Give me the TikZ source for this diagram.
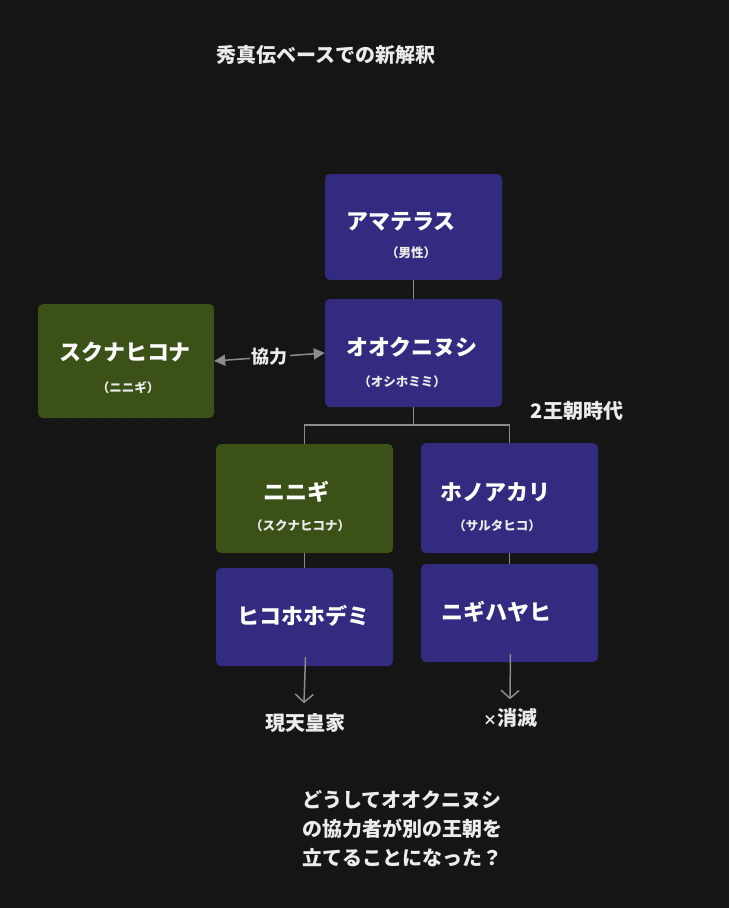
\documentclass[tikz,border=0pt]{standalone}
\usepackage{fontspec}
\setmainfont{Noto Sans CJK JP}
\usetikzlibrary{arrows.meta}
\definecolor{bg}{RGB}{21,21,21}
\definecolor{griddot}{RGB}{40,40,40}
\definecolor{bluefill}{RGB}{50,43,128}
\definecolor{greenfill}{RGB}{59,81,23}
\definecolor{linkgray}{RGB}{140,140,140}
\definecolor{textwhite}{RGB}{236,236,236}

\begin{document}
\begin{tikzpicture}[x=1pt,y=-1pt,
    family/.style={rounded corners=5pt, inner sep=0pt, minimum width=177pt},
    kamiblue/.style={family, fill=bluefill},
    kamigreen/.style={family, fill=greenfill},
    godname/.style={text=white, font=\fontsize{22}{26}\selectfont\bfseries, inner sep=0pt},
    othername/.style={text=textwhite, font=\fontsize{12.5}{15}\selectfont\bfseries, inner sep=0pt},
    note/.style={text=textwhite, font=\fontsize{20}{29}\selectfont\bfseries, inner sep=0pt},
    link/.style={draw=linkgray, line width=1.5pt},
    fate/.style={link, -{Straight Barb[length=8pt,width=18pt,line width=1.5pt]}}]
    \fill[bg] (0,0) rectangle (729,908);
    \useasboundingbox (0,0) rectangle (729,908);
    \foreach \i in {0,...,44}
        \foreach \j in {0,...,55}
            \fill[griddot] (1+16.3*\i, 13.3+16.3*\j) circle (0.7);

    \node[note] (title) at (326,55) {秀真伝ベースでの新解釈};

    \node[kamiblue, minimum height=106pt] (ama) at (413.5,227) {};
    \node[godname] (amaname) at (401,222) {アマテラス};
    \node[othername] (amaalias) at (411,253) {（男性）};

    \node[kamiblue, minimum height=108pt] (oku) at (413.5,353) {};
    \node[godname] (okuname) at (412,347) {オオクニヌシ};
    \node[othername] (okualias) at (402,382) {（オシホミミ）};

    \node[kamigreen, minimum width=176pt, minimum height=114pt] (sukuna) at (126,361) {};
    \node[godname] (sukunaname) at (125,352) {スクナヒコナ};
    \node[othername] (sukunaalias) at (128,388) {（ニニギ）};

    \node[kamigreen, minimum height=109pt] (ninigi) at (304.5,498.5) {};
    \node[godname] (niniginame) at (296,492) {ニニギ};
    \node[othername] (ninigialias) at (300,526) {（スクナヒコナ）};

    \node[kamiblue, minimum height=110pt] (hono) at (509.5,498) {};
    \node[godname] (hononame) at (495,492) {ホノアカリ};
    \node[othername] (honoalias) at (497,526) {（サルタヒコ）};

    \node[kamiblue, minimum height=98pt] (hiko) at (304.5,617) {};
    \node[godname] (hikoname) at (303,616) {ヒコホホデミ};

    \node[kamiblue, minimum height=98pt] (nigi) at (509.5,613) {};
    \node[godname] (niginame) at (496,612) {ニギハヤヒ};

    \node[note] (dynasty) at (577,411) {2王朝時代};
    \node[note] (imperial) at (305,723) {現天皇家};
    \node[note] (vanish) at (510,718) {{\fontsize{14}{14}\selectfont×}消滅};

    \node[note, align=left, anchor=north west] (question) at (302,790)
        {どうしてオオクニヌシ\\の協力者が別の王朝を\\立てることになった？};

    % lineage
    \coordinate (fork) at (413.5,425);
    \draw[link] (ama.south) -- (oku.north);
    \draw[link] (oku.south) -- (fork) -| (ninigi.north);
    \draw[link] (fork) -| (hono.north);
    \draw[link] (ninigi.south) -- (hiko.north);
    \draw[link] (hono.south) -- (nigi.north);

    % alliance
    \draw[link, {Triangle[length=11pt,width=11pt]}-{Triangle[length=11pt,width=11pt]}]
        (sukuna.east) -- node[fill=bg, text=textwhite, inner sep=2pt,
        font=\fontsize{18}{20}\selectfont\bfseries] (ally) {協力} (oku.west);

    % outcomes
    \draw[fate] ([xshift=1pt, yshift=9pt]hiko.south) -- ([xshift=-1pt, yshift=10pt]imperial.north);
    \draw[fate] ([xshift=1pt, yshift=8pt]nigi.south) -- ([yshift=9pt]vanish.north);
\end{tikzpicture}
\end{document}
